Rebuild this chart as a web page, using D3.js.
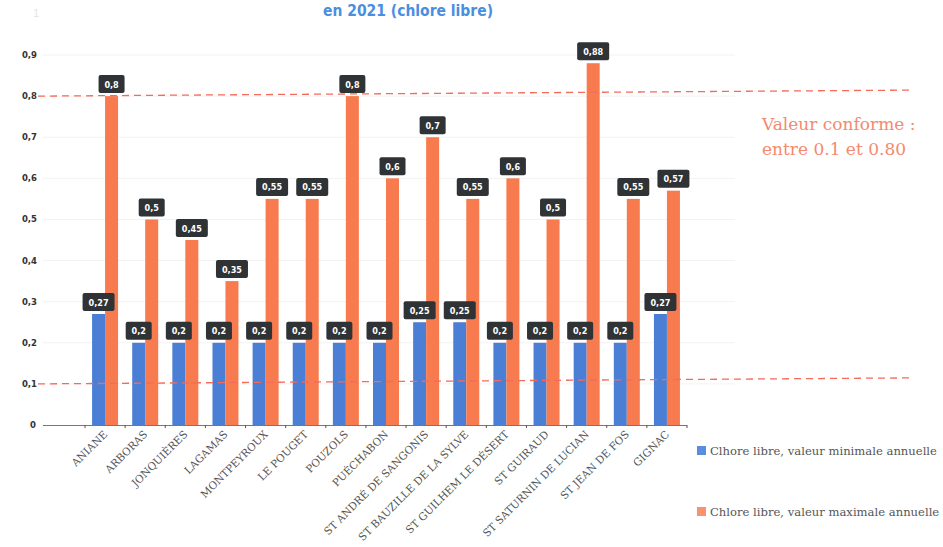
<!DOCTYPE html>
<html><head><meta charset="utf-8">
<script src="https://cdn.jsdelivr.net/npm/d3@7"></script>
<style>body{margin:0;background:#fff}svg{display:block}</style>
</head><body>
<svg id="c" width="943" height="547"></svg>
<script>
const communes = ["ANIANE","ARBORAS","JONQUIÈRES","LAGAMAS","MONTPEYROUX","LE POUGET","POUZOLS","PUÉCHABON","ST ANDRÉ DE SANGONIS","ST BAUZILLE DE LA SYLVE","ST GUILHEM LE DÉSERT","ST GUIRAUD","ST SATURNIN DE LUCIAN","ST JEAN DE FOS","GIGNAC"];
const minVals = [0.27,0.2,0.2,0.2,0.2,0.2,0.2,0.2,0.25,0.25,0.2,0.2,0.2,0.2,0.27];
const maxVals = [0.8,0.5,0.45,0.35,0.55,0.55,0.8,0.6,0.7,0.55,0.6,0.5,0.88,0.55,0.57];
const yTicks = [0,0.1,0.2,0.3,0.4,0.5,0.6,0.7,0.8,0.9];
const seriesNames = ["Clhore libre, valeur minimale annuelle","Chlore libre, valeur maximale annuelle"];
const limits = [0.1, 0.8];

const svg = d3.select("#c");
const x = d3.scaleBand().domain(communes).range([85,687]).paddingInner(0).paddingOuter(0);
const y = d3.scaleLinear().domain([0,0.9]).range([425,55]);
const fmt = v => String(v).replace(".", ",");
const blue = "#4a7fd5", orange = "#f77b4e";

// title
svg.append("text").attr("x",323).attr("y",16).attr("fill","#4a8ee0")
  .attr("font-family","DejaVu Sans Condensed, DejaVu Sans").attr("font-weight","bold")
  .attr("font-size",16).attr("textLength",170).attr("lengthAdjust","spacingAndGlyphs")
  .text("en 2021 (chlore libre)");
svg.append("text").attr("x",33).attr("y",17).attr("fill","#e4e4e4").attr("font-size",10)
  .attr("font-family","DejaVu Sans").text("1");

// grid
svg.append("g").selectAll("line").data(yTicks.filter(d=>d>0)).join("line")
  .attr("x1",43).attr("x2",735).attr("y1",d=>y(d)).attr("y2",d=>y(d))
  .attr("stroke","#f2f2f2").attr("stroke-width",1);

// y tick labels
svg.append("g").selectAll("text").data(yTicks).join("text")
  .attr("x",d=>d===0?36:37).attr("y",d=>y(d)+3).attr("text-anchor","end")
  .attr("font-family","DejaVu Sans").attr("font-weight","bold").attr("font-size",8.5).attr("fill","#333")
  .text(d=>fmt(d));

// bars
const bw = 13;
const g = svg.append("g");
g.selectAll("rect.min").data(minVals).join("rect").attr("class","min")
  .attr("x",(d,i)=>x(communes[i])+x.bandwidth()/2-bw).attr("width",bw)
  .attr("y",d=>y(d)).attr("height",d=>y(0)-y(d)).attr("fill",blue);
g.selectAll("rect.max").data(maxVals).join("rect").attr("class","max")
  .attr("x",(d,i)=>x(communes[i])+x.bandwidth()/2).attr("width",bw)
  .attr("y",d=>y(d)).attr("height",d=>y(0)-y(d)).attr("fill",orange);

// x axis
const ax = svg.append("g");
ax.append("line").attr("x1",43).attr("x2",687).attr("y1",y(0)+0.5).attr("y2",y(0)+0.5).attr("stroke","#777").attr("stroke-width",1.2);
ax.selectAll("line.t").data(communes.concat(["_end"])).join("line").attr("class","t")
  .attr("x1",(d,i)=>85+i*x.step()).attr("x2",(d,i)=>85+i*x.step())
  .attr("y1",y(0)).attr("y2",y(0)+3).attr("stroke","#555");
ax.selectAll("text").data(communes).join("text")
  .attr("transform",d=>`translate(${x(d)+x.bandwidth()/2+3},${y(0)+10}) rotate(-45)`)
  .attr("text-anchor","end").attr("font-family","DejaVu Serif").attr("font-size",10.5)
  .attr("fill","#555").text(d=>d);

// value labels
function labels(vals, off){
  const lg = svg.append("g");
  vals.forEach((v,i)=>{
    const cx = x(communes[i])+x.bandwidth()/2+off;
    const t = fmt(v);
    const w = t.length*6+8;
    lg.append("rect").attr("x",cx-w/2).attr("y",y(v)-21).attr("width",w).attr("height",18)
      .attr("rx",2).attr("fill","#2f3336");
    lg.append("text").attr("x",cx).attr("y",y(v)-8.5).attr("text-anchor","middle")
      .attr("font-family","DejaVu Sans Condensed, DejaVu Sans").attr("font-weight","bold").attr("font-size",9)
      .attr("fill","#fff").text(t);
  });
}
labels(minVals, -bw/2);
labels(maxVals, bw/2);

// limit lines
svg.append("g").selectAll("line").data(limits).join("line")
  .attr("x1",38).attr("x2",912).attr("y1",d=>y(d)).attr("y2",d=>y(d)-6)
  .attr("stroke","#f26b5b").attr("stroke-width",1.3).attr("stroke-dasharray","7,5");

// annotation
const ann = svg.append("text").attr("font-family","DejaVu Serif").attr("font-size",17).attr("fill","#f48a70");
ann.append("tspan").attr("x",762).attr("y",130).text("Valeur conforme :");
ann.append("tspan").attr("x",762).attr("y",155).text("entre 0.1 et 0.80");

// legend
const leg = svg.append("g");
[[blue,455],["#f9936f",516]].forEach((c,i)=>{
  leg.append("rect").attr("x",697).attr("y",c[1]-9).attr("width",9).attr("height",9).attr("fill",i?"#f9936f":"#5a8de0");
  leg.append("text").attr("x",710).attr("y",c[1]).attr("font-family","DejaVu Serif").attr("font-size",11.6)
    .attr("fill","#555").text(seriesNames[i]);
});
</script>
</body></html>
